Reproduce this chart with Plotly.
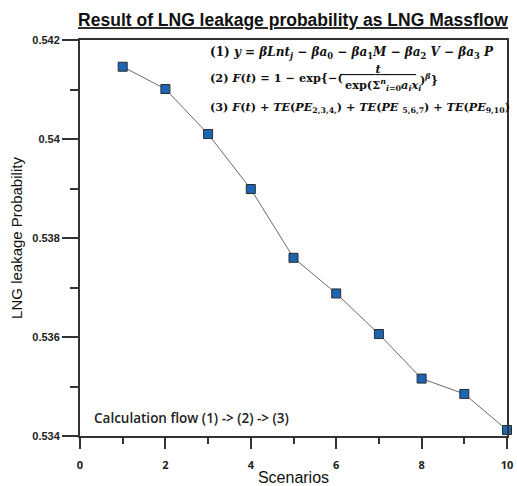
import plotly.graph_objects as go

scenarios = [1, 2, 3, 4, 5, 6, 7, 8, 9, 10]
probability = [0.54146, 0.54101, 0.54010, 0.53899, 0.53760, 0.53688, 0.53606, 0.53516, 0.53485, 0.53412]

x_ticks = [0, 2, 4, 6, 8, 10]
y_ticks = [0.534, 0.536, 0.538, 0.540, 0.542]
y_tick_labels = ["0.534", "0.536", "0.538", "0.54", "0.542"]

title_text = "Result of LNG leakage probability as LNG Massflow"
x_title = "Scenarios"
y_title = "LNG leakage Probability"
note_text = "Calculation flow (1) -> (2) -> (3)"

W, H = 517, 486
PL, PR, PT, PB = 80, 507, 40, 436  # plot box in page pixels
L, R, T, B = PL, W - PR, PT, H - PB


def px(x):
    return (x - PL) / (PR - PL)


def py(y):
    return (PB - y) / (PB - PT)


fig = go.Figure()
fig.add_trace(go.Scatter(
    x=scenarios, y=probability, mode="lines+markers",
    line=dict(color="#6a6a6a", width=1),
    marker=dict(symbol="square", size=9, color="#1a66b5",
                line=dict(color="#2b2b2b", width=1)),
    cliponaxis=False, showlegend=False, hoverinfo="skip",
))

ffont = dict(family="DejaVu Serif, serif", size=12, color="#111")
nb = "\u00a0"

annos = [
    dict(x=px(208), y=py(53), xanchor="left", yanchor="middle", fs=12,
         text="<b>(1) <i>y</i> = <i>βLnt<sub>j</sub></i> − <i>βa</i><sub>0</sub> − <i>βa</i><sub>1</sub><i>M</i> − <i>βa</i><sub>2</sub> <i>V</i> − <i>βa</i><sub>3</sub> <i>P</i></b>"),
    dict(x=px(208), y=py(78), xanchor="left", yanchor="middle", fs=11.3,
         text="<b>(2) <i>F</i>(<i>t</i>) = 1 − exp{−(</b>"),
    dict(x=px(378), y=py(69), xanchor="center", yanchor="middle", fs=11.3,
         text="<u><b>" + nb * 9 + "<i>t</i>" + nb * 9 + "</b></u>"),
    dict(x=px(343), y=py(85), xanchor="left", yanchor="middle", fs=11.3,
         text="<b>exp(Σ<sup><i>n</i></sup><sub><i>i</i>=0</sub><i>a<sub>i</sub>x<sub>i</sub></i></b>"),
    dict(x=px(418), y=py(79), xanchor="left", yanchor="middle", fs=11.3,
         text="<b>)<sup><i>β</i></sup>}</b>"),
    dict(x=px(208), y=py(107), xanchor="left", yanchor="middle", fs=11.2,
         text="<b>(3) <i>F</i>(<i>t</i>) + <i>TE</i>(<i>PE</i><sub>2,3,4,</sub>) + <i>TE</i>(<i>PE</i> <sub>5,6,7</sub>) + <i>TE</i>(<i>PE</i><sub>9,10</sub>)</b>"),
]
for a in annos:
    f = dict(ffont)
    f["size"] = a.pop("fs")
    fig.add_annotation(xref="paper", yref="paper", showarrow=False, font=f, **a)

fig.add_annotation(xref="paper", yref="paper", x=px(92), y=py(418), xanchor="left", yanchor="middle",
                   showarrow=False, text=note_text,
                   font=dict(family="Open Sans, Liberation Sans, sans-serif", size=13.5, color="#222", weight=600))

fig.update_layout(
    width=W, height=H, margin=dict(l=L, r=R, t=T, b=B),
    paper_bgcolor="white", plot_bgcolor="white",
    title=dict(text="<u>" + title_text + "</u>", xref="paper", x=px(293), xanchor="center",
               y=1 - 20 / H, yanchor="middle",
               font=dict(family="Liberation Sans, Arial, sans-serif", size=17.5, color="#111", weight="bold")),
    font=dict(family="Liberation Sans, Arial, sans-serif", color="#222"),
)
fig.update_xaxes(
    range=[0, 10], tickvals=x_ticks, ticks="outside", ticklen=11, tickwidth=2, tickcolor="#333",
    minor=dict(dtick=1, tick0=0, ticks="outside", ticklen=6, tickwidth=2, tickcolor="#333", showgrid=False),
    showline=True, linecolor="#333", linewidth=2, mirror=True, showgrid=False, zeroline=False,
    ticklabelstandoff=7, automargin=False, ticklabeloverflow="allow",
    tickfont=dict(family="Open Sans, Liberation Sans, sans-serif", size=11, color="#222", weight="bold"),
    title=dict(text=x_title, font=dict(size=16, color="#111"), standoff=3),
)
fig.update_yaxes(
    range=[0.534, 0.542], tickvals=y_ticks, ticktext=y_tick_labels, ticks="outside", ticklen=16, tickwidth=2,
    tickcolor="#333",
    minor=dict(dtick=0.001, tick0=0.534, ticks="outside", ticklen=8, tickwidth=2, tickcolor="#333", showgrid=False),
    showline=True, linecolor="#333", linewidth=2, mirror=True, showgrid=False, zeroline=False,
    ticklabelstandoff=0, automargin=False,
    tickfont=dict(family="Liberation Sans Narrow, Liberation Sans, Arial, sans-serif", size=11, color="#222",
                  weight="bold"),
    title=dict(text=y_title, font=dict(size=15, color="#111"), standoff=6),
)

fig.write_html("out.html", config={"displayModeBar": False},
               post_script="document.body.style.margin='0';")
